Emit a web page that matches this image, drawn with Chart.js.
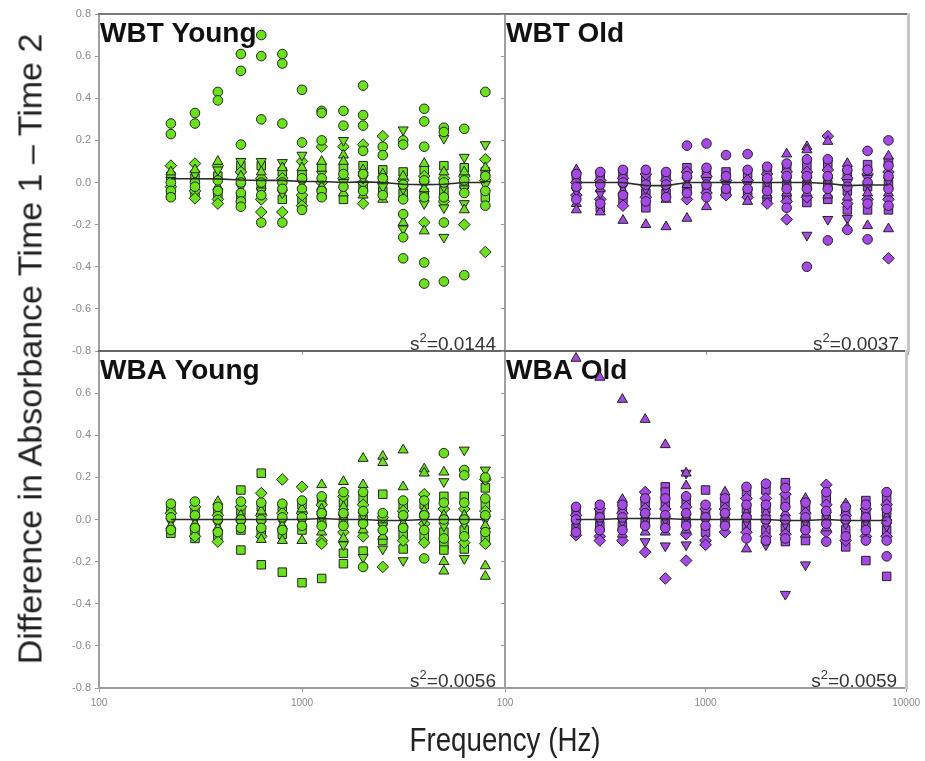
<!DOCTYPE html>
<html>
<head>
<meta charset="utf-8">
<script src="https://cdn.jsdelivr.net/npm/chart.js@4.4.0/dist/chart.umd.min.js"></script>
<style>
  html, body { margin: 0; padding: 0; background: #fff; }
  #wrap { position: relative; width: 925px; height: 761px; overflow: hidden; font-family: "Liberation Sans", Arial, sans-serif; }
  #wrap canvas { position: absolute; left: 0; top: 0; }
  .ytitle { position: absolute; left: 30px; top: 349px; transform: translate(-50%, -50%) rotate(-90deg); white-space: nowrap; font-size: 34px; color: #222; }
  .xtitle { position: absolute; left: 505px; top: 740px; transform: translate(-50%, -50%) scaleX(0.84); white-space: nowrap; font-size: 33px; color: #222; }
</style>
</head>
<body>
<div id="wrap">
  <canvas id="wbt_young" width="925" height="761"></canvas>
  <canvas id="wbt_old" width="925" height="761"></canvas>
  <canvas id="wba_young" width="925" height="761"></canvas>
  <canvas id="wba_old" width="925" height="761"></canvas>
  <div class="ytitle">Difference in Absorbance Time 1 – Time 2</div>
  <div class="xtitle">Frequency (Hz)</div>
</div>
<script>
// frequencies (Hz), one column of points per frequency
const freqs = [226, 297, 385, 500, 630, 800, 1000, 1250, 1600, 2000, 2500, 3150, 4000, 5000, 6300, 8000];
const xTickValues = [100, 1000, 10000];

// WBT Young: values per frequency, split by marker shape
const wbtYoungCircle = [[0.28,0.23,0.0,-0.04,-0.07],[0.33,0.28,0.0,-0.02],[0.43,0.39,0.01,-0.04],[0.61,0.53,0.18,0.0,-0.05,-0.09,-0.115],
    [0.70,0.60,0.30,0.0,-0.06,-0.19],[0.61,0.565,0.28,0.0,-0.03,-0.19],[0.44,0.19,0.02,-0.03,-0.13],[0.34,0.33,0.2,0.02,-0.04,-0.07],
    [0.34,0.27,0.04,-0.02],[0.46,0.32,0.27,0.15,0.04,-0.04],[0.17,0.13,0.02,-0.06],[0.2,0.18,-0.01,-0.08,-0.15,-0.26,-0.36],
    [0.35,0.29,0.17,0.01,-0.07,-0.38,-0.48],[0.26,0.24,0.0,-0.07,-0.19,-0.47],[0.255,0.01,-0.05,-0.44],[0.43,0.03,-0.04,-0.11]];
const wbtYoungUp = [[0.05],[0.06],[0.1,-0.02],[0.03],[0.05],[0.07],[0.07],[0.1,-0.02],[0.13,0.1,-0.05],[0.06,-0.06],[0.04,-0.08],
    [0.03,-0.19],[0.09,-0.03,-0.23],[0.05],[0.05,-0.13],[0.07]];
const wbtYoungDown = [[0.01],[0.04],[0.06],[0.1,-0.02],[0.1,-0.04],[0.095,-0.05],[0.13,0.0],[0.04],[0.2,0.0],[0.02],[-0.02],
    [0.25,-0.03,-0.22],[-0.01,-0.1],[0.21,-0.02,-0.12,-0.26],[0.12,-0.03,-0.1],[0.18,-0.01]];
const wbtYoungDiamond = [[0.08,-0.02],[0.09,-0.04,-0.075],[0.08,-0.08,-0.1],[0.05],[0.02,-0.08,-0.14],[0.02,-0.14],[0.1,-0.06,-0.11],
    [0.17,0.0],[0.17,0.02],[0.18,0.0,-0.1],[0.22,0.0],[0.01],[0.03,-0.19],[0.02,-0.09],[0.03,-0.2],[0.11,0.01,-0.33]];
const wbtYoungSquare = [[0.03,-0.06],[0.02,-0.06],[0.03,-0.06],[0.08,-0.07],[0.08,-0.02],[0.05,-0.08],[0.04,-0.08],[0.07,-0.06],
    [0.07,-0.08],[0.08,-0.02],[0.06,-0.04],[0.05,-0.05],[0.06,-0.05],[0.08,-0.04],[0.07,-0.01],[0.05,-0.07]];
const wbtYoungMean = [0.018,0.018,0.017,0.012,0.01,0.01,0.005,0.005,0.0,0.003,0.0,-0.008,-0.01,-0.008,0.0,0.0];

// WBT Old
const wbtOldCircle = [[0.04,-0.02,-0.08],[0.05,-0.01,-0.1],[0.06,0.0,-0.06],[0.06,-0.01,-0.09],[0.05,-0.01,-0.07],[0.175,0.03,-0.05],
    [0.185,0.07,-0.01,-0.07],[0.13,0.03,-0.03],[0.135,0.06,-0.03],[0.075,0.02,-0.04],[0.09,0.03,-0.03,-0.12],[0.11,0.03,-0.03,-0.40],
    [0.11,0.03,-0.03,-0.275],[0.06,-0.02,-0.225],[0.15,0.06,0.0,-0.1,-0.27],[0.2,0.08,0.03,-0.03,-0.11]];
const wbtOldUp = [[0.06,-0.1,-0.13],[-0.03,-0.14],[-0.04,-0.18],[-0.2],[-0.08,-0.21],[-0.01,-0.17],[-0.115],[],[-0.09],[-0.06],
    [0.135,-0.05],[0.17,0.155,-0.05],[0.195,-0.06],[0.09,-0.07,-0.215],[-0.05,-0.205],[0.125,-0.05,-0.22]];
const wbtOldDown = [[-0.04],[-0.05],[-0.02],[-0.03],[-0.03],[0.01],[0.01],[-0.01],[-0.01],[0.0],[0.01],[0.01,-0.25],[0.01,-0.175],
    [0.0,-0.17],[0.02],[0.01]];
const wbtOldDiamond = [[0.0,-0.06],[0.01,-0.08],[0.02,-0.11],[0.04,-0.07],[0.01],[0.05,-0.08],[0.03,-0.05],[0.01,-0.06],[0.01,-0.07],
    [0.04,-0.1],[0.05,-0.09,-0.175],[0.05,-0.07],[0.22,0.06],[0.02,-0.1],[0.04,-0.08],[0.05,-0.08,-0.36]];
const wbtOldSquare = [[0.02],[0.03,-0.12],[0.04,-0.08],[0.02,-0.05,-0.12],[0.03,-0.05],[0.07,-0.03],[0.05,-0.03],[0.05,-0.05],
    [0.04,-0.05],[0.06,-0.02,-0.08],[0.07,-0.01,-0.07],[0.08,-0.01,-0.095],[0.09,-0.01,-0.08],[0.04,-0.04,-0.13],[0.085,-0.02,-0.13],
    [0.1,-0.01,-0.13]];
const wbtOldMean = [0.0,0.0,0.0,-0.015,-0.015,0.0,0.0,0.0,0.0,0.0,0.0,0.0,-0.005,-0.015,-0.012,-0.012];

// WBA Young
const wbaYoungCircle = [[0.075,0.01,-0.05],[0.085,0.02,-0.04],[0.06,0.0,-0.06],[0.085,0.0,-0.04],[0.08,0.0,-0.04],[0.075,0.01,-0.05],
    [0.09,0.01,-0.03],[0.11,0.03,-0.03],[0.13,0.03,-0.03],[0.13,0.04,-0.02,-0.225],[0.03,-0.05],[0.09,0.02,-0.04],
    [0.09,0.02,-0.05,-0.185],[0.315,0.08,0.0,-0.09],[0.235,0.21,0.08,0.0,-0.08],[0.2,0.1,0.02,-0.06]];
const wbaYoungUp = [[-0.03],[-0.02],[0.085,-0.04],[0.02],[0.04,-0.095],[-0.03,-0.1],[0.05,-0.1],[0.165,0.05,-0.06],[0.18,0.06,-0.09],
    [0.29,0.165,-0.05],[0.3,0.27,-0.08],[0.33,0.155,-0.02],[0.24,0.22,0.04],[0.225,0.02,-0.2,-0.245],[0.02],[-0.03,-0.22,-0.27]];
const wbaYoungDown = [[-0.01],[0.0],[-0.02],[-0.02],[-0.02],[-0.01],[-0.01],[0.01],[0.01,-0.12],[0.02,-0.18],[-0.03,-0.14],
    [0.0,-0.195],[0.0],[0.18,-0.03],[0.33,-0.02,-0.185],[0.235,0.0]];
const wbaYoungDiamond = [[0.03],[0.06,-0.08],[0.02,-0.105],[0.06],[0.125,0.02,-0.08],[0.19,0.03],[0.155,0.03],[0.07,-0.1,-0.115],
    [0.11,-0.06],[0.07,-0.08],[0.01,-0.225],[0.04,-0.1],[0.12,-0.02,-0.11],[0.05],[0.05,-0.11],[0.19,0.04,-0.115]];
const wbaYoungSquare = [[0.05,-0.065],[0.04,-0.06,-0.09],[0.04,-0.08],[0.14,0.04,-0.05,-0.145],[0.22,0.06,-0.06,-0.215],
    [0.05,-0.07,-0.25],[0.07,-0.05,-0.3],[0.09,-0.01,-0.28],[0.08,-0.01,-0.16,-0.21],[0.1,0.0,-0.15],[0.12,-0.01,-0.1],
    [0.07,-0.07,-0.14],[0.07,-0.08],[0.11,-0.06,-0.12,-0.145],[0.11,-0.05,-0.14],[0.15,0.07,-0.09]];
const wbaYoungMean = [0.0,0.0,0.0,0.0,0.0,0.0,0.0,0.005,0.0,0.0,-0.005,-0.005,0.0,0.0,0.0,0.0];

// WBA Old
const wbaOldCircle = [[0.06,0.0,-0.06],[0.07,0.01,-0.05],[0.07,0.01,-0.05],[0.1,0.03,-0.03],[0.1,0.02,-0.04],[0.11,0.03,-0.03],
    [0.07,0.01,-0.03],[0.1,0.03,-0.03],[0.155,0.07,0.01,-0.09],[0.17,0.07,0.0,-0.1],[0.15,0.06,0.0,-0.09],[0.08,0.01,-0.05],
    [0.13,0.04,-0.02,-0.105],[0.06,0.0,-0.08],[0.07,0.01,-0.05,-0.1],[0.13,0.05,-0.01,-0.1,-0.175]];
const wbaOldUp = [[0.765],[0.675],[0.57,0.095,-0.07],[0.475,-0.06],[0.355,-0.06],[0.22,0.16,-0.05],[],[0.13],[0.03,-0.14],[0.03],
    [0.03],[0.1,-0.07],[-0.04],[0.075],[],[0.01]];
const wbaOldDown = [[-0.02],[-0.01],[-0.01],[0.01,-0.105],[0.0,-0.125],[0.22,0.01,-0.12],[-0.01],[0.01],[-0.01],[-0.02,-0.12],
    [-0.02,-0.355],[-0.01,-0.215],[0.02],[-0.02],[-0.01],[-0.03]];
const wbaOldDiamond = [[0.02,-0.075],[0.05,-0.08,-0.1],[0.03,-0.1],[0.13,0.05,-0.155],[0.05,-0.28],[0.06,-0.07,-0.195],
    [0.05,-0.1,-0.12],[0.05,-0.06],[0.1,-0.06],[0.1,-0.08],[0.12,-0.07],[0.03],[0.165,0.07,-0.06],[0.02,-0.1],[0.05,-0.08],[0.07,-0.08]];
const wbaOldSquare = [[0.04,-0.04],[0.03,-0.03],[0.05,-0.03],[0.08,-0.01],[0.155,0.13,0.07,-0.02],[0.09,-0.01],[0.14,0.03,-0.06],
    [0.08,-0.01],[0.13,0.05,-0.03],[0.14,0.05,-0.05],[0.175,0.09,-0.04,-0.105],[0.05,-0.03,-0.1],[0.1,0.0],[0.04,-0.05,-0.13],
    [0.09,0.03,-0.03,-0.195],[0.1,0.03,-0.05,-0.27]];
const wbaOldMean = [0.0,0.0,0.005,0.005,0.005,0.0,0.0,0.0,0.0,0.0,-0.005,-0.005,0.0,-0.005,-0.005,-0.005];

const FONT = '"Liberation Sans", Arial, sans-serif';
Chart.defaults.font.family = FONT;

// fixed axis sizes so the plot areas land where the panels are
const Y_AXIS_W = 40;
const X_AXIS_H = 24;

function to_points(columns){
    const pts = [];
    columns.forEach((vals, i) => {
        vals.forEach(v => pts.push({x: freqs[i], y: v}));
    });
    return pts;
}

function shape_dataset(columns, style, rotation, radius, colour){
    return {
        data: to_points(columns),
        pointStyle: style,
        pointRotation: rotation,
        pointRadius: radius,
        pointBackgroundColor: colour,
        backgroundColor: colour,
        pointBorderColor: '#222',
        borderColor: '#222',
        pointBorderWidth: 1
    };
}

// panel title and s^2 text
const panel_text = {
    id: 'panel_text',
    beforeDraw(chart, args, opts){
        const {ctx, chartArea} = chart;
        ctx.save();
        ctx.textAlign = 'left';
        ctx.textBaseline = 'alphabetic';
        ctx.fillStyle = '#111';
        ctx.font = 'bold 28px ' + FONT;
        ctx.fillText(opts.label, chartArea.left + 1, chartArea.top + 28);

        ctx.fillStyle = '#333';
        const base = chartArea.bottom - 1;
        ctx.font = '19px ' + FONT;
        const rest = '=' + opts.variance;
        const restW = ctx.measureText(rest).width;
        const sW = ctx.measureText('s').width;
        ctx.font = '13px ' + FONT;
        const twoW = ctx.measureText('2').width;
        let x = chartArea.right - 9 - restW;
        ctx.fillText('2', x - twoW, base - 8);
        ctx.font = '19px ' + FONT;
        ctx.fillText(rest, x, base);
        ctx.fillText('s', x - twoW - sW, base);
        ctx.restore();
    }
};

function plot_panel(canvas_id, p){
    const ctx = document.getElementById(canvas_id).getContext('2d');
    const meanLine = {
        type: 'line',
        data: freqs.map((f, i) => ({x: f, y: p.mean[i]})),
        showLine: true,
        borderColor: '#2a2a2a',
        borderWidth: 1.6,
        pointRadius: 0,
        fill: false,
        tension: 0
    };
    const datasets = [
        meanLine,
        shape_dataset(p.circle, 'circle', 0, 4.8, p.colour),
        shape_dataset(p.up, 'triangle', 0, 5.8, p.colour),
        shape_dataset(p.down, 'triangle', 180, 5.8, p.colour),
        shape_dataset(p.diamond, 'rectRot', 0, 5.8, p.colour),
        shape_dataset(p.square, 'rect', 0, 6, p.colour)
    ];
    return new Chart(ctx, {
        type: 'scatter',
        data: {datasets: datasets},
        plugins: [panel_text],
        options: {
            responsive: false,
            animation: false,
            devicePixelRatio: 1,
            layout: {padding: {
                left: p.box[0] - Y_AXIS_W,
                top: p.box[1],
                right: 925 - p.box[2],
                bottom: 761 - p.box[3] - X_AXIS_H
            }},
            plugins: {
                legend: {display: false},
                tooltip: {enabled: false},
                panel_text: {label: p.label, variance: p.variance}
            },
            scales: {
                x: {
                    type: 'logarithmic',
                    min: 100,
                    max: 10000,
                    position: 'bottom',
                    afterFit: s => { s.height = X_AXIS_H; },
                    afterBuildTicks: s => { s.ticks = xTickValues.map(v => ({value: v})); },
                    ticks: {
                        display: p.showX,
                        autoSkip: false,
                        maxRotation: 0,
                        padding: 5,
                        color: '#888',
                        font: {size: 10},
                        callback: v => (v === 10000 && !p.lastLabel) ? '' : String(v)
                    },
                    grid: {display: true, drawOnChartArea: false, drawTicks: true, tickLength: 4, color: '#999'},
                    border: {display: true, color: p.bottomColour, width: 2}
                },
                y: {
                    type: 'linear',
                    min: -0.8,
                    max: 0.8,
                    afterFit: s => { s.width = Y_AXIS_W; },
                    ticks: {
                        display: p.showY,
                        stepSize: 0.2,
                        padding: 4,
                        color: '#888',
                        font: {size: 11},
                        callback: v => (p.hideTop && v > 0.75) ? '' : Number(v).toFixed(1)
                    },
                    grid: {display: true, drawOnChartArea: false, drawTicks: true, tickLength: 4, color: '#999'},
                    border: {display: true, color: '#a0a0a0', width: 2}
                },
                xTop: {
                    type: 'logarithmic',
                    position: 'top',
                    min: 100,
                    max: 10000,
                    afterFit: s => { s.height = 0; },
                    ticks: {display: false},
                    grid: {display: false},
                    border: {display: true, color: p.topColour, width: 2}
                },
                yRight: {
                    type: 'linear',
                    position: 'right',
                    min: -0.8,
                    max: 0.8,
                    afterFit: s => { s.width = 0; },
                    ticks: {display: false},
                    grid: {display: false},
                    border: {display: true, color: p.rightColour, width: p.rightWidth}
                }
            }
        }
    });
}

const GREEN = '#6be01c';
const PURPLE = '#a548e6';

plot_panel('wbt_young', {
    box: [99, 14, 505, 351], label: 'WBT Young', variance: '0.0144', colour: GREEN,
    circle: wbtYoungCircle, up: wbtYoungUp, down: wbtYoungDown, diamond: wbtYoungDiamond, square: wbtYoungSquare, mean: wbtYoungMean,
    showX: false, showY: true, hideTop: false, lastLabel: false,
    topColour: '#777', bottomColour: '#666', rightColour: '#a0a0a0', rightWidth: 2
});
plot_panel('wbt_old', {
    box: [505, 14, 908, 351], label: 'WBT Old', variance: '0.0037', colour: PURPLE,
    circle: wbtOldCircle, up: wbtOldUp, down: wbtOldDown, diamond: wbtOldDiamond, square: wbtOldSquare, mean: wbtOldMean,
    showX: false, showY: false, hideTop: false, lastLabel: false,
    topColour: '#777', bottomColour: '#666', rightColour: '#c8c8c8', rightWidth: 3
});
plot_panel('wba_young', {
    box: [99, 351, 505, 688], label: 'WBA Young', variance: '0.0056', colour: GREEN,
    circle: wbaYoungCircle, up: wbaYoungUp, down: wbaYoungDown, diamond: wbaYoungDiamond, square: wbaYoungSquare, mean: wbaYoungMean,
    showX: true, showY: true, hideTop: true, lastLabel: false,
    topColour: '#666', bottomColour: '#999', rightColour: '#a0a0a0', rightWidth: 2
});
plot_panel('wba_old', {
    box: [505, 351, 908, 688], label: 'WBA Old', variance: '0.0059', colour: PURPLE,
    circle: wbaOldCircle, up: wbaOldUp, down: wbaOldDown, diamond: wbaOldDiamond, square: wbaOldSquare, mean: wbaOldMean,
    showX: true, showY: false, hideTop: true, lastLabel: true,
    topColour: '#666', bottomColour: '#999', rightColour: '#c8c8c8', rightWidth: 3
});
</script>
</body>
</html>
